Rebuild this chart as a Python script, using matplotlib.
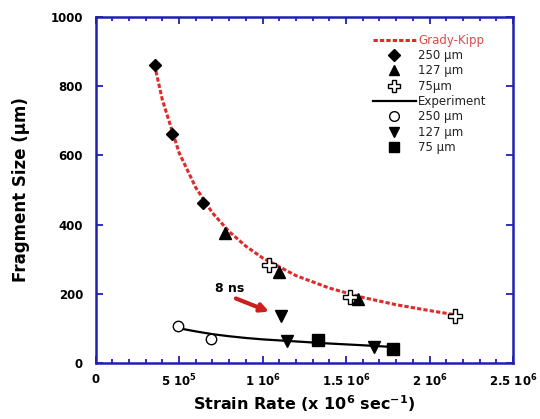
import matplotlib
matplotlib.use('agg')
import matplotlib.pyplot as plt
from matplotlib.lines import Line2D

plt.rcParams['font.family'] = ['DejaVu Sans']
plt.rcParams['mathtext.fontset'] = 'dejavusans'
plt.rcParams['mathtext.default'] = 'bf'

# Grady-Kipp model points (strain rate in 1/s, fragment size in um)
gk_250_x = [3.53e5, 4.55e5, 6.46e5]
gk_250_y = [861, 663, 462]
gk_127_x = [7.73e5, 1.10e6, 1.569e6]
gk_127_y = [375, 264, 186]
gk_75_x = [1.04e6, 1.526e6, 2.153e6]
gk_75_y = [284, 192, 137]

# Grady-Kipp curve
gk_curve_x = [3.53e5, 4.0e5, 5.0e5, 6.0e5, 7.0e5, 8.0e5, 9.0e5, 1.0e6,
              1.2e6, 1.4e6, 1.6e6, 1.8e6, 2.0e6, 2.153e6]
gk_curve_y = [861, 760, 608, 507, 434, 380, 338, 304,
              253, 217, 190, 169, 152, 140]

# Experiment points
exp_250_x = [4.96e5, 6.90e5]
exp_250_y = [108, 69]
exp_127_x = [1.111e6, 1.149e6, 1.668e6]
exp_127_y = [136, 64, 48]
exp_75_x = [1.33e6, 1.783e6]
exp_75_y = [67, 40]

# Experiment fit curve
exp_curve_x = [5.0e5, 6.0e5, 7.0e5, 8.0e5, 9.0e5, 1.0e6, 1.2e6, 1.4e6, 1.6e6, 1.78e6]
exp_curve_y = [101, 92, 84, 78, 73, 69, 63, 57, 52, 47]

x_ticks = [0, 5e5, 1e6, 1.5e6, 2e6, 2.5e6]
x_tick_labels = ['0', r'5 10$^{5}$', r'1 10$^{6}$', r'1.5 10$^{6}$', r'2 10$^{6}$', r'2.5 10$^{6}$']
y_ticks = [0, 200, 400, 600, 800, 1000]

red = '#dd2a2a'
blue = '#2020b0'

fig = plt.figure(figsize=(5.4, 4.19), dpi=100)
ax = fig.add_axes([0.177, 0.133, 0.773, 0.827])

ax.plot(gk_curve_x, gk_curve_y, color=red, lw=2.2, dashes=(1.4, 0.7), zorder=2)
ax.plot(exp_curve_x, exp_curve_y, color='black', lw=1.6, zorder=2)

ax.plot(gk_250_x, gk_250_y, ls='none', marker='D', ms=6.5, color='black', zorder=3)
ax.plot(gk_127_x, gk_127_y, ls='none', marker='^', ms=8, color='black', zorder=3)
ax.plot(gk_75_x, gk_75_y, ls='none', marker='P', ms=10, mfc='white', mec='black', mew=1.0, zorder=3)
ax.plot(exp_250_x, exp_250_y, ls='none', marker='o', ms=7.5, mfc='white', mec='black', mew=1.0, zorder=3)
ax.plot(exp_127_x, exp_127_y, ls='none', marker='v', ms=8, color='black', zorder=3)
ax.plot(exp_75_x, exp_75_y, ls='none', marker='s', ms=8.5, color='black', zorder=3)

ax.annotate('', xy=(1.055e6, 146), xytext=(0.825e6, 190),
            arrowprops=dict(arrowstyle='-|>', color='#cc1f1f', lw=3, mutation_scale=12))
ax.text(0.805e6, 216, '8 ns', ha='center', va='center', fontsize=9, fontweight='bold')

ax.set_xlim(0, 2.5e6)
ax.set_ylim(0, 1000)
ax.set_xticks(x_ticks)
ax.set_xticklabels(x_tick_labels)
ax.set_xticks([i * 1e5 for i in range(26)], minor=True)
ax.set_yticks(y_ticks)

for lbl in ax.get_xticklabels() + ax.get_yticklabels():
    lbl.set_fontweight('bold')
    lbl.set_fontsize(8.5)

ax.tick_params(which='both', direction='in', top=True, right=True, color=blue, width=1.3)
ax.tick_params(which='major', length=5)
ax.tick_params(which='minor', length=3)
ax.tick_params(axis='x', which='major', pad=7)
ax.tick_params(axis='y', which='major', pad=9)

for spine in ax.spines.values():
    spine.set_color(blue)
    spine.set_linewidth(1.8)

ax.set_xlabel(r'Strain Rate (x 10$^{6}$ sec$^{-1}$)', fontsize=11.5, fontweight='bold', labelpad=3)
ax.set_ylabel('Fragment Size (\u00b5m)', fontsize=12, fontweight='bold', labelpad=15)

handles = [
    Line2D([], [], color=red, lw=2.2, dashes=(1.4, 0.7)),
    Line2D([], [], ls='none', marker='D', ms=6, color='black'),
    Line2D([], [], ls='none', marker='^', ms=7, color='black'),
    Line2D([], [], ls='none', marker='P', ms=9, mfc='white', mec='black'),
    Line2D([], [], color='black', lw=1.6),
    Line2D([], [], ls='none', marker='o', ms=7, mfc='white', mec='black'),
    Line2D([], [], ls='none', marker='v', ms=7, color='black'),
    Line2D([], [], ls='none', marker='s', ms=7.5, color='black'),
]
labels = ['Grady-Kipp', '250 \u00b5m', '127 \u00b5m', '75\u00b5m',
          'Experiment', '250 \u00b5m', '127 \u00b5m', '75 \u00b5m']
leg = ax.legend(handles, labels, loc='upper left', bbox_to_anchor=(0.645, 0.975),
                frameon=False, fontsize=8.5, handlelength=3.6, handletextpad=0.2,
                labelspacing=0.2, borderpad=0.2, numpoints=1)
for i, t in enumerate(leg.get_texts()):
    t.set_color('#e04848' if i == 0 else '#222222')

fig.savefig('out.png', dpi=100)
